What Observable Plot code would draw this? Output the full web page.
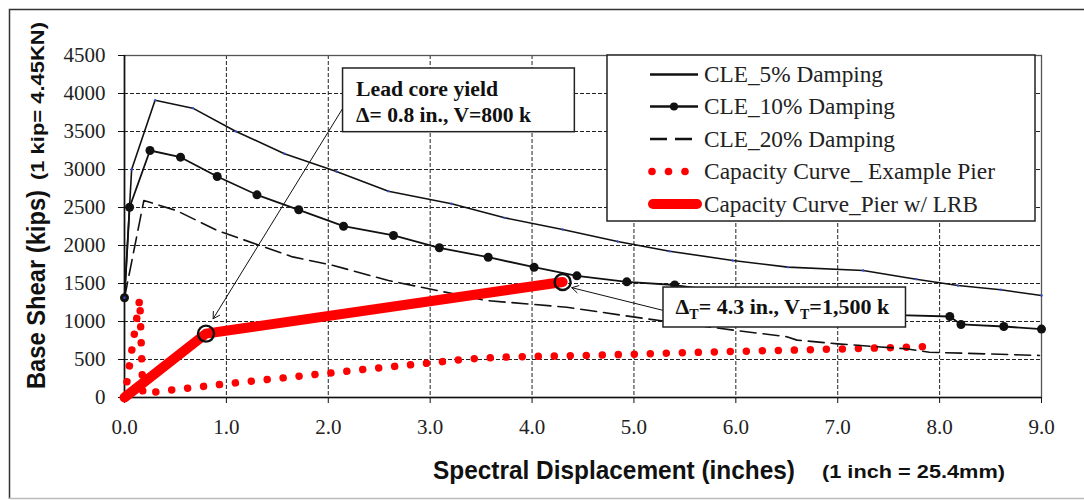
<!DOCTYPE html>
<html><head><meta charset="utf-8">
<script src="https://cdn.jsdelivr.net/npm/d3@7"></script>
<script src="https://cdn.jsdelivr.net/npm/@observablehq/plot@0.6"></script>
<style>
html,body{margin:0;padding:0;background:#fff;}
#chart{position:relative;width:1084px;height:500px;overflow:hidden;}
</style></head><body><div id="chart"></div>
<script>
// ---- data ----
const xTicks = [0, 1, 2, 3, 4, 5, 6, 7, 8, 9];
const yTicks = [0, 500, 1000, 1500, 2000, 2500, 3000, 3500, 4000, 4500];

const cle5X = [0, 0.07, 0.30, 0.67, 1.09, 1.57, 2.08, 2.59, 3.21, 3.73, 4.30, 4.84, 5.35, 5.97, 6.51, 7.25, 7.77, 8.18, 8.60, 9.0];
const cle5Y = [1312, 3000, 3910, 3807, 3504, 3207, 2974, 2715, 2549, 2364, 2211, 2053, 1925, 1803, 1715, 1671, 1557, 1474, 1417, 1342];

const cle10X = [0, 0.05, 0.25, 0.55, 0.91, 1.30, 1.71, 2.15, 2.64, 3.09, 3.57, 4.02, 4.44, 4.93, 5.40, 5.95, 6.50, 7.05, 7.60, 8.10, 8.21, 8.63, 9.0];
const cle10Y = [1312, 2504, 3250, 3162, 2908, 2667, 2470, 2254, 2132, 1970, 1846, 1714, 1601, 1522, 1480, 1380, 1270, 1180, 1085, 1066, 961, 934, 900];

const cle20X = [0, 0.19, 0.51, 0.91, 1.33, 1.65, 2.05, 2.59, 3.10, 3.55, 4.34, 5.10, 6.00, 6.50, 6.60, 7.00, 7.67, 7.90, 8.98];
const cle20Y = [1312, 2592, 2460, 2197, 2000, 1850, 1737, 1539, 1400, 1276, 1188, 1040, 882, 800, 755, 706, 641, 596, 553];

const pierX = [0, 0.15, 0.18, 0.5, 1.0, 1.5, 2.0, 2.5, 3.0, 3.35, 3.7, 4.0, 4.5, 5.0, 5.5, 6.0, 6.5, 7.0, 7.5, 7.85];
const pierY = [0, 1300, 50, 105, 180, 250, 320, 390, 455, 505, 530, 540, 552, 570, 590, 607, 622, 638, 655, 670];

const lrbX = [0, 0.8, 4.3];
const lrbY = [0, 840, 1520];

const keyX = [0.8, 4.3];
const keyY = [840, 1520];

const seriesNames = ["CLE_5% Damping", "CLE_10% Damping", "CLE_20% Damping", "Capacity Curve_ Example Pier", "Capacity Curve_Pier w/ LRB"];

// annotation placement (data coordinates)
const annBoxes = [
  {x1: 2.145, x2: 4.42, y1: 3491, y2: 4329},
  {x1: 5.29, x2: 7.67, y1: 921, y2: 1447}
];
const annArrows = [
  {x1: 2.14, y1: 3800, x2: 0.87, y2: 1036},
  {x1: 5.29, y1: 1145, x2: 4.39, y2: 1445}
];

const zip = (xs, ys) => xs.map((x, i) => ({x, y: ys[i]}));
const cle5 = zip(cle5X, cle5Y), cle10 = zip(cle10X, cle10Y), cle20 = zip(cle20X, cle20Y);
const pier = zip(pierX, pierY), lrb = zip(lrbX, lrbY), keys = zip(keyX, keyY);

const W = 1084, H = 500;
const plot = Plot.plot({
  width: W, height: H,
  marginTop: 55, marginRight: 43, marginBottom: 103, marginLeft: 124,
  x: {domain: [0, 9]},
  y: {domain: [0, 4500]},
  style: {background: "transparent", fontFamily: "'Liberation Serif','Times New Roman',serif", fontSize: "21px", color: "#222", overflow: "visible"},
  marks: [
    Plot.gridX({ticks: xTicks, stroke: "#222", strokeOpacity: 1, strokeWidth: 1, strokeDasharray: "4,2"}),
    Plot.gridY({ticks: yTicks, stroke: "#222", strokeOpacity: 1, strokeWidth: 1, strokeDasharray: "4,2"}),
    Plot.frame({stroke: "#555", strokeWidth: 1.3}),
    Plot.ruleX([0], {stroke: "#111", strokeWidth: 1.6}),
    Plot.ruleY([0], {stroke: "#111", strokeWidth: 1.6}),
    Plot.axisX({ticks: xTicks, tickSize: 6, tickPadding: 16, tickFormat: d => d.toFixed(1), label: null, stroke: "#111"}),
    Plot.axisY({ticks: yTicks, tickSize: 6, tickPadding: 13, tickFormat: d => String(d), label: null, stroke: "#111"}),
    Plot.line(pier, {x: "x", y: "y", stroke: "#ff0000", strokeWidth: 7.5, strokeDasharray: "0.01 16", strokeLinecap: "round"}),
    Plot.line(cle20, {x: "x", y: "y", stroke: "#111", strokeWidth: 1.6, strokeDasharray: "16,7"}),
    Plot.line(cle10, {x: "x", y: "y", stroke: "#111", strokeWidth: 1.8}),
    Plot.dot(cle10, {x: "x", y: "y", r: 4.5, fill: "#111"}),
    Plot.line(cle5, {x: "x", y: "y", stroke: "#111", strokeWidth: 1.6}),
    Plot.dot(cle5, {x: "x", y: "y", r: 1.2, fill: "#3050d0"}),
    Plot.line(lrb, {x: "x", y: "y", stroke: "#ff0000", strokeWidth: 10, strokeLinecap: "round"}),
    Plot.dot(keys, {x: "x", y: "y", r: 8, stroke: "#111", strokeWidth: 2.4, fill: "none"}),
    Plot.arrow(annArrows, {x1: "x1", y1: "y1", x2: "x2", y2: "y2", stroke: "#111", strokeWidth: 1, headLength: 11}),
    Plot.rect(annBoxes, {x1: "x1", x2: "x2", y1: "y1", y2: "y2", fill: "white", stroke: "#222", strokeWidth: 1.5})
  ]
});
document.getElementById("chart").appendChild(plot);

const svg = d3.select(plot);
const sx = plot.scale("x"), sy = plot.scale("y");

// outer border
svg.append("path").attr("d", `M9.5,499 L9.5,9.5 L1090,9.5`).attr("fill", "none").attr("stroke", "#333").attr("stroke-width", 1.5);
svg.append("line").attr("x1", 9).attr("x2", 1090).attr("y1", 498.5).attr("y2", 498.5).attr("stroke", "#bbb").attr("stroke-width", 1.5);

// annotation texts
const serifB = "'Liberation Serif','Times New Roman',serif";
const a1x = sx.apply(annBoxes[0].x1) + 13.5;
const a1y = sy.apply(annBoxes[0].y2);
svg.append("text").attr("text-anchor", "start").attr("x", a1x).attr("y", a1y + 28).attr("font-family", serifB).attr("font-weight", "bold").attr("font-size", 20.5).attr("fill", "#111")
  .attr("textLength", 142).attr("lengthAdjust", "spacingAndGlyphs").text("Lead core yield");
svg.append("text").attr("text-anchor", "start").attr("x", a1x).attr("y", a1y + 54.5).attr("font-family", serifB).attr("font-weight", "bold").attr("font-size", 20.5).attr("fill", "#111")
  .attr("textLength", 175).attr("lengthAdjust", "spacingAndGlyphs").text("\u0394= 0.8 in., V=800 k");

const a2x = sx.apply(annBoxes[1].x1) + 12.5;
const a2y = sy.apply(annBoxes[1].y2);
const t2 = svg.append("text").attr("text-anchor", "start").attr("x", a2x).attr("y", a2y + 27).attr("font-family", serifB).attr("font-weight", "bold").attr("font-size", 22).attr("fill", "#111");
t2.append("tspan").text("\u0394");
t2.append("tspan").attr("font-size", 14).attr("dy", 5).text("T");
t2.append("tspan").attr("dy", -5).text("= 4.3 in., V");
t2.append("tspan").attr("font-size", 14).attr("dy", 5).text("T");
t2.append("tspan").attr("dy", -5).text("=1,500 k");

// legend
const lg = svg.append("g").attr("text-anchor", "start");
lg.append("rect").attr("x", 607).attr("y", 55).attr("width", 428).attr("height", 166).attr("fill", "white").attr("stroke", "#222").attr("stroke-width", 1.5);
const rowsY = [82, 114, 146.5, 179, 211.5];
const textLens = [179, 191, 191, 291, 274];
rowsY.forEach((by, i) => {
  const cy = by - 7.5;
  if (i === 0) {
    lg.append("line").attr("x1", 650).attr("x2", 698).attr("y1", cy).attr("y2", cy).attr("stroke", "#111").attr("stroke-width", 2.5);
  } else if (i === 1) {
    lg.append("line").attr("x1", 650).attr("x2", 698).attr("y1", cy).attr("y2", cy).attr("stroke", "#111").attr("stroke-width", 2.5);
    lg.append("circle").attr("cx", 674).attr("cy", cy).attr("r", 4).attr("fill", "#111");
  } else if (i === 2) {
    lg.append("line").attr("x1", 650).attr("x2", 698).attr("y1", cy).attr("y2", cy).attr("stroke", "#111").attr("stroke-width", 2.5).attr("stroke-dasharray", "17,8");
  } else if (i === 3) {
    [652, 668.5, 685].forEach(cx => lg.append("circle").attr("cx", cx).attr("cy", cy).attr("r", 3.8).attr("fill", "#ff0000"));
  } else {
    lg.append("line").attr("x1", 653).attr("x2", 697).attr("y1", cy).attr("y2", cy).attr("stroke", "#ff0000").attr("stroke-width", 10).attr("stroke-linecap", "round");
  }
  lg.append("text").attr("text-anchor", "start").attr("x", 704).attr("y", by).attr("font-family", serifB).attr("font-size", 22.5).attr("fill", "#222")
    .attr("textLength", textLens[i]).attr("lengthAdjust", "spacingAndGlyphs").text(seriesNames[i]);
});

// axis titles
const sans = "'Liberation Sans',Arial,sans-serif";
svg.append("text").attr("transform", "translate(45,289.5) rotate(-90)").attr("text-anchor", "middle")
  .attr("font-family", sans).attr("font-weight", "bold").attr("font-size", 26).attr("fill", "#111")
  .attr("textLength", 199).attr("lengthAdjust", "spacingAndGlyphs").text("Base Shear (kips)");
svg.append("text").attr("transform", "translate(44,101) rotate(-90)").attr("text-anchor", "middle")
  .attr("font-family", sans).attr("font-weight", "bold").attr("font-size", 19).attr("fill", "#111")
  .attr("textLength", 158).attr("lengthAdjust", "spacingAndGlyphs").text("(1 kip= 4.45KN)");
svg.append("text").attr("x", 614).attr("y", 479).attr("text-anchor", "middle")
  .attr("font-family", sans).attr("font-weight", "bold").attr("font-size", 26).attr("fill", "#111")
  .attr("textLength", 362).attr("lengthAdjust", "spacingAndGlyphs").text("Spectral Displacement (inches)");
svg.append("text").attr("x", 913.5).attr("y", 478).attr("text-anchor", "middle")
  .attr("font-family", sans).attr("font-weight", "bold").attr("font-size", 19).attr("fill", "#111")
  .attr("textLength", 183).attr("lengthAdjust", "spacingAndGlyphs").text("(1 inch = 25.4mm)");
</script>
</body></html>
